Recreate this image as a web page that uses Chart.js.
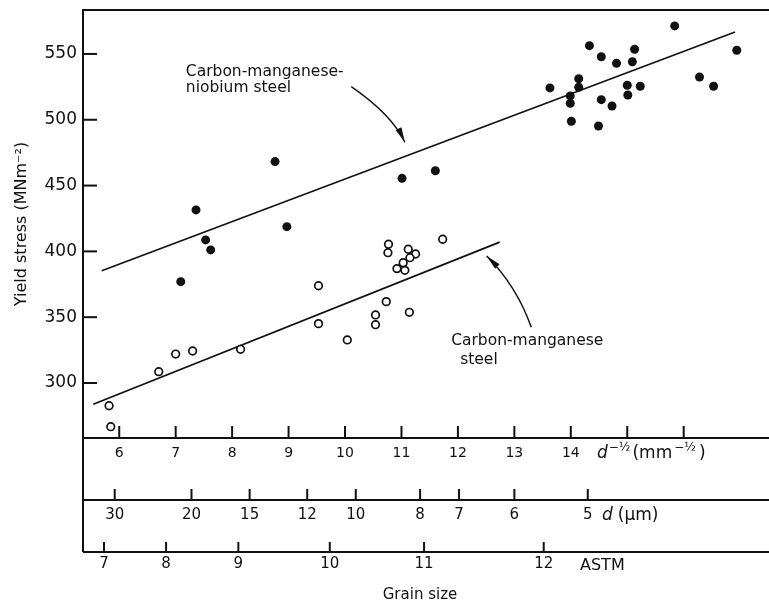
<!DOCTYPE html>
<html>
<head>
<meta charset="utf-8">
<script src="https://cdn.jsdelivr.net/npm/chart.js@4.4.0/dist/chart.umd.min.js"></script>
<style>
  html, body { margin: 0; padding: 0; background: #fff; }
  #wrap { width: 769px; height: 603px; }
</style>
</head>
<body>
<div id="wrap"><canvas id="yieldChart" width="769" height="603"></canvas></div>
<script>
// Yield stress against grain size, d^-1/2 (mm^-1/2)
const nbX = [7.09, 7.36, 7.53, 7.62, 8.76, 8.97, 11.01, 11.60, 13.63, 13.99, 13.99, 14.01, 14.14, 14.14, 14.33,
             14.49, 14.54, 14.54, 14.73, 14.81, 15.00, 15.01, 15.09, 15.13, 15.23, 15.84, 16.28, 16.53, 16.94];
const nbY = [377.0, 431.5, 408.7, 401.1, 468.2, 418.8, 455.5, 461.3, 524.2, 518.1, 512.5, 498.9, 531.2, 524.7, 556.3,
             495.3, 547.9, 515.3, 510.5, 542.9, 526.2, 518.8, 544.1, 553.6, 525.5, 571.3, 532.5, 525.5, 552.8];

const cmnX = [5.82, 5.85, 6.70, 7.00, 7.30, 8.15, 9.53, 9.53, 10.04, 10.54, 10.54, 10.73, 10.77, 10.76, 11.12,
              11.25, 11.15, 11.03, 10.92, 11.06, 11.73, 11.14];
const cmnY = [282.7, 266.8, 308.6, 322.0, 324.3, 325.6, 373.9, 345.1, 332.7, 351.7, 344.3, 361.8, 405.4, 399.0, 401.6,
              398.0, 395.2, 391.4, 386.9, 385.6, 409.2, 353.7];

// fitted lines, end points
const nbFitX = [5.69, 16.91];
const nbFitY = [385.3, 566.7];
const cmnFitX = [5.54, 12.74];
const cmnFitY = [283.8, 407.0];

const stressTicks = [300, 350, 400, 450, 500, 550];
const rootTicks = [6, 7, 8, 9, 10, 11, 12, 13, 14, 15, 16];
const rootLabels = ['6', '7', '8', '9', '10', '11', '12', '13', '14', '', ''];

// grain diameter and ASTM number, placed by their d^-1/2 value
const diamLabels = ['30', '20', '15', '12', '10', '8', '7', '6', '5'];
const diamAt = [5.92, 7.28, 8.31, 9.33, 10.19, 11.33, 12.02, 13.00, 14.30];
const astmLabels = ['7', '8', '9', '10', '11', '12'];
const astmAt = [5.73, 6.83, 8.11, 9.73, 11.40, 13.52];

const ink = '#111';
const family = '"DejaVu Sans", sans-serif';

function pts(xs, ys) {
    return xs.map((x, i) => ({ x: x, y: ys[i] }));
}

// labels and arrows for the two steels (data coordinates)
const notes = [
    { lines: ['Carbon-manganese-', 'niobium steel'], x: [7.18, 7.18], y: [533.3, 521.1],
      arrow: [[10.11, 525.2], [10.83, 504.0], [11.06, 482.9]] },
    { lines: ['Carbon-manganese', 'steel'], x: [11.88, 12.04], y: [328.9, 314.4],
      arrow: [[13.30, 342.3], [13.04, 373.8], [12.51, 396.5]] }
];

function seg(ctx, x1, y1, x2, y2) {
    ctx.beginPath();
    ctx.moveTo(x1, y1);
    ctx.lineTo(x2, y2);
    ctx.stroke();
}

// draws text runs one after another, some raised as superscripts
function runs(ctx, x, y, parts) {
    parts.forEach(p => {
        ctx.font = p.font;
        ctx.fillText(p.t, x, y - (p.up || 0));
        x += ctx.measureText(p.t).width + (p.gap || 0);
    });
}

const axisExtras = {
    id: 'axisExtras',
    afterDraw(chart) {
        const { ctx, chartArea: a, scales: { x, y } } = chart;
        const edge = chart.width;
        const diamY = a.bottom + 62;
        const astmY = a.bottom + 114;
        ctx.save();
        ctx.strokeStyle = ink;
        ctx.fillStyle = ink;
        ctx.lineWidth = 2;

        // frame: top rule, bottom axis and the left rule running down past the lower scales
        seg(ctx, a.left, a.top, edge, a.top);
        seg(ctx, a.left, a.bottom, edge, a.bottom);
        seg(ctx, a.left, a.top, a.left, astmY);

        // inward ticks
        stressTicks.forEach(v => {
            const py = y.getPixelForValue(v);
            seg(ctx, a.left, py, a.left + 14, py);
        });
        rootTicks.forEach(v => {
            const px = x.getPixelForValue(v);
            seg(ctx, px, a.bottom, px, a.bottom - 12);
        });

        // d (um) scale and ASTM grain size scale
        seg(ctx, a.left, diamY, edge, diamY);
        seg(ctx, a.left, astmY, edge, astmY);
        ctx.font = '15px ' + family;
        ctx.textAlign = 'center';
        ctx.textBaseline = 'middle';
        diamAt.forEach((v, i) => {
            const px = x.getPixelForValue(v);
            seg(ctx, px, diamY, px, diamY - 11);
            ctx.fillText(diamLabels[i], px, diamY + 15);
        });
        astmAt.forEach((v, i) => {
            const px = x.getPixelForValue(v);
            seg(ctx, px, astmY, px, astmY - 10);
            ctx.fillText(astmLabels[i], px, astmY + 12);
        });

        // scale names
        ctx.textAlign = 'left';
        ctx.textBaseline = 'alphabetic';
        const sup = '12px ' + family;
        const reg = '17px ' + family;
        runs(ctx, 597, a.bottom + 20, [
            { t: 'd', font: 'italic 17px ' + family, gap: 1 },
            { t: '−½', font: sup, up: 7, gap: 2 },
            { t: '(mm', font: reg, gap: 2 },
            { t: '−½', font: sup, up: 7, gap: 3 },
            { t: ')', font: reg }
        ]);
        runs(ctx, 602, diamY + 20, [
            { t: 'd', font: 'italic 17px ' + family, gap: 5 },
            { t: '(µm)', font: reg }
        ]);
        ctx.font = '16px ' + family;
        ctx.fillText('ASTM', 580, astmY + 18);
        ctx.font = '15px ' + family;
        ctx.textAlign = 'center';
        ctx.fillText('Grain size', 420, astmY + 47);

        // annotations with curved arrows
        ctx.textAlign = 'left';
        ctx.font = '15.5px ' + family;
        ctx.lineWidth = 1.4;
        notes.forEach(n => {
            n.lines.forEach((t, i) => {
                ctx.fillText(t, x.getPixelForValue(n.x[i]), y.getPixelForValue(n.y[i]));
            });
            const p = n.arrow.map(q => [x.getPixelForValue(q[0]), y.getPixelForValue(q[1])]);
            ctx.beginPath();
            ctx.moveTo(p[0][0], p[0][1]);
            ctx.quadraticCurveTo(p[1][0], p[1][1], p[2][0], p[2][1]);
            ctx.stroke();
            // arrow head along the end tangent
            const dx = p[2][0] - p[1][0], dy = p[2][1] - p[1][1];
            const len = Math.hypot(dx, dy);
            const ux = dx / len, uy = dy / len;
            const bx = p[2][0] - ux * 15, by = p[2][1] - uy * 15;
            ctx.beginPath();
            ctx.moveTo(p[2][0], p[2][1]);
            ctx.lineTo(bx - uy * 3.2, by + ux * 3.2);
            ctx.lineTo(bx + uy * 3.2, by - ux * 3.2);
            ctx.closePath();
            ctx.fill();
        });
        ctx.restore();
    }
};

const ctx = document.getElementById('yieldChart').getContext('2d');
new Chart(ctx, {
    type: 'scatter',
    data: {
        datasets: [{
            label: 'Carbon-manganese-niobium steel',
            data: pts(nbX, nbY),
            pointRadius: 4.5,
            pointBackgroundColor: ink,
            pointBorderWidth: 0,
            order: 0
        }, {
            label: 'Carbon-manganese steel',
            data: pts(cmnX, cmnY),
            pointRadius: 3.8,
            pointBackgroundColor: '#fff',
            pointBorderColor: ink,
            pointBorderWidth: 1.7,
            order: 0
        }, {
            label: 'Nb fit',
            data: pts(nbFitX, nbFitY),
            showLine: true,
            pointRadius: 0,
            borderColor: ink,
            borderWidth: 1.7,
            order: 1
        }, {
            label: 'C-Mn fit',
            data: pts(cmnFitX, cmnFitY),
            showLine: true,
            pointRadius: 0,
            borderColor: ink,
            borderWidth: 1.7,
            order: 1
        }]
    },
    options: {
        responsive: false,
        animation: false,
        devicePixelRatio: 1,
        layout: { padding: { top: 10, right: 0, bottom: 0, left: 0 } },
        plugins: { legend: { display: false }, tooltip: { enabled: false } },
        scales: {
            x: {
                type: 'linear',
                min: 5.358,
                max: 17.41,
                afterBuildTicks: s => { s.ticks = rootTicks.map(v => ({ value: v })); },
                afterFit: s => { s.height = 165; s.paddingLeft = 0; s.paddingRight = 0; },
                grid: { display: false, drawTicks: false },
                border: { display: false },
                ticks: {
                    callback: (v, i) => rootLabels[i],
                    autoSkip: false,
                    maxRotation: 0,
                    padding: 7,
                    color: ink,
                    font: { family: family, size: 14 }
                }
            },
            y: {
                min: 258.2,
                max: 583.4,
                afterBuildTicks: s => { s.ticks = stressTicks.map(v => ({ value: v })); },
                afterFit: s => { s.width = 83; s.paddingTop = 0; s.paddingBottom = 0; },
                grid: { display: false, drawTicks: false },
                border: { display: true, color: ink, width: 2 },
                ticks: { padding: 6, color: ink, font: { family: family, size: 17 } },
                title: {
                    display: true,
                    text: 'Yield stress (MNm⁻²)',
                    color: ink,
                    font: { family: family, size: 16 },
                    padding: { top: 12, bottom: 0 }
                }
            }
        }
    },
    plugins: [axisExtras]
});
</script>
</body>
</html>
